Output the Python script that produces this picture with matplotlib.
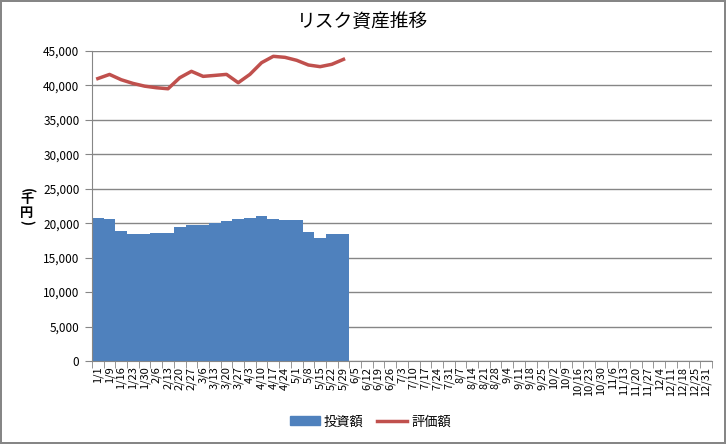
import matplotlib.pyplot as plt
from matplotlib.patches import Patch
from matplotlib.lines import Line2D
from matplotlib.ticker import FuncFormatter

plt.rcParams['font.family'] = ['Noto Sans CJK JP', 'DejaVu Sans']

dates = ['1/1', '1/9', '1/16', '1/23', '1/30', '2/6', '2/13', '2/20', '2/27',
         '3/6', '3/13', '3/20', '3/27', '4/3', '4/10', '4/17', '4/24',
         '5/1', '5/8', '5/15', '5/22', '5/29', '6/5', '6/12', '6/19', '6/26',
         '7/3', '7/10', '7/17', '7/24', '7/31', '8/7', '8/14', '8/21', '8/28',
         '9/4', '9/11', '9/18', '9/25', '10/2', '10/9', '10/16', '10/23', '10/30',
         '11/6', '11/13', '11/20', '11/27', '12/4', '12/11', '12/18', '12/25', '12/31']

# 投資額 (千円)
invest = [20800, 20650, 18900, 18500, 18500, 18650, 18650, 19400, 19700, 19700,
          20080, 20370, 20650, 20800, 21100, 20650, 20500, 20500, 18770, 17900,
          18380, 18380]

# 評価額 (千円)
value = [41000, 41600, 40830, 40300, 39900, 39670, 39520, 41120, 42050, 41320,
         41460, 41610, 40400, 41610, 43310, 44230, 44080, 43650, 42970, 42730,
         43070, 43790]

blue = '#4F81BD'
red = '#C0504D'
gray = '#868686'

fig = plt.figure(figsize=(7.26, 4.44), dpi=100, edgecolor=gray, linewidth=1.5)
ax = fig.add_axes([0.1267, 0.1869, 0.854, 0.6982])

x = list(range(len(dates)))
ax.bar(x[:len(invest)], invest, width=1.0, color=blue, zorder=2)
ax.plot(x[:len(value)], value, color=red, lw=2.5, zorder=3)

ax.set_xlim(-0.5, len(dates) - 0.5)
ax.set_ylim(0, 45000)
ax.set_yticks(range(0, 45001, 5000))
ax.yaxis.set_major_formatter(FuncFormatter(lambda v, p: f'{int(v):,}'))
ax.yaxis.grid(True, color=gray, lw=1)
ax.set_axisbelow(True)

ax.set_xticks(x)
ax.set_xticklabels(dates, rotation=90, fontsize=8)
ax.set_xticks([i - 0.5 for i in range(len(dates) + 1)], minor=True)
ax.tick_params(axis='x', which='major', length=0, pad=4)
ax.tick_params(axis='x', which='minor', length=5, color=gray)
ax.tick_params(axis='y', length=5, color=gray, labelsize=8.5, pad=4)

for s in ['top', 'right']:
    ax.spines[s].set_visible(False)
for s in ['left', 'bottom']:
    ax.spines[s].set_color(gray)

fig.text(0.5, 0.952, 'リスク資産推移', ha='center', va='center', fontsize=13.5)

# 縦書きの軸ラベル (千円)
ylab = [('(', -90, 0.571), ('千', 0, 0.551), ('円', 0, 0.520), (')', -90, 0.499)]
for ch, rot, yy in ylab:
    fig.text(0.037, yy, ch, ha='center', va='center', fontsize=9.5,
             rotation=rot, rotation_mode='anchor', fontweight='bold')

handles = [Patch(color=blue), Line2D([0], [0], color=red, lw=2.5)]
fig.legend(handles, ['投資額', '評価額'], loc='center', bbox_to_anchor=(0.51, 0.05),
           ncol=2, frameon=False, fontsize=9.5, handlelength=2.3,
           columnspacing=1.0, handletextpad=0.3)

fig.savefig('out.png', dpi=100, edgecolor=fig.get_edgecolor())
